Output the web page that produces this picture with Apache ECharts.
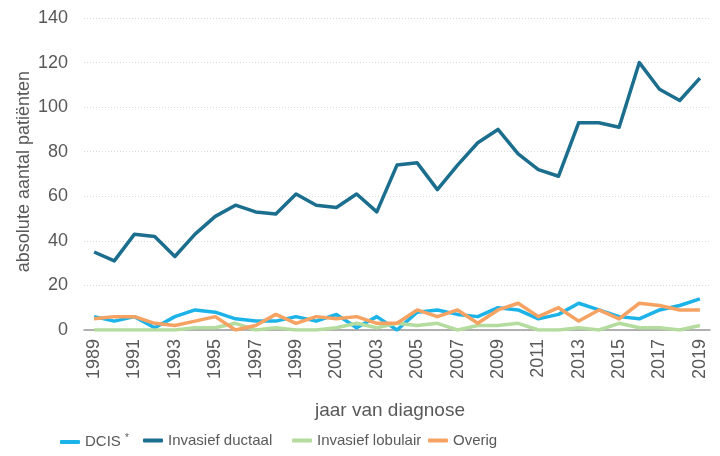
<!DOCTYPE html>
<html>
<head>
<meta charset="utf-8">
<script src="https://cdn.jsdelivr.net/npm/echarts@6/dist/echarts.min.js"></script>
<style>
  html, body { margin: 0; padding: 0; background: #fff; }
  #chart { width: 720px; height: 456px; }
</style>
</head>
<body>
<div id="chart"></div>
<script>
// jaren (categorieen)
const years = []
for (let y = 1989; y <= 2019; y++) years.push(String(y))

// series waarden
const dcis = [6, 4, 6, 1, 6, 9, 8, 5, 4, 4, 6, 4, 7, 1, 6, 0, 8, 9, 7, 6, 10, 9, 5, 7, 12, 9, 6, 5, 9, 11, 14]
const ductaal = [35, 31, 43, 42, 33, 43, 51, 56, 53, 52, 61, 56, 55, 61, 53, 74, 75, 63, 74, 84, 90, 79, 72, 69, 93, 93, 91, 120, 108, 103, 113]
const lobulair = [0, 0, 0, 0, 0, 1, 1, 3, 0, 1, 0, 0, 1, 3, 1, 3, 2, 3, 0, 2, 2, 3, 0, 0, 1, 0, 3, 1, 1, 0, 2]
const overig = [5, 6, 6, 3, 2, 4, 6, 0, 2, 7, 3, 6, 5, 6, 3, 3, 9, 6, 9, 3, 9, 12, 6, 10, 4, 9, 5, 12, 11, 9, 9]

const names = ['DCIS', 'Invasief ductaal', 'Invasief lobulair', 'Overig']
const colors = ['#1cb3e8', '#1b6e8d', '#b4dc9e', '#f5a263']
const values = [dcis, ductaal, lobulair, overig]
const legendLeft = [55, 138, 287, 423]

const font = "'Liberation Sans', Arial, sans-serif"
const textColor = '#595959'

const chart = echarts.init(document.getElementById('chart'))

const legends = names.map((n, i) => ({
  data: [n],
  left: legendLeft[i],
  top: 428,
  icon: 'roundRect',
  itemWidth: 20,
  itemHeight: 4,
  selectedMode: false,
  formatter: name => name === 'DCIS' ? 'DCIS {s|*}' : name,
  textStyle: {
    fontFamily: font,
    fontSize: 15,
    color: textColor,
    rich: {
      s: { fontFamily: font, fontSize: 10, color: textColor, padding: [0, 0, 8, 0] }
    }
  }
}))

const series = names.map((n, i) => ({
  name: n,
  type: 'line',
  data: values[i],
  symbol: 'none',
  z: i === 1 ? 3 : 2,
  lineStyle: { color: colors[i], width: 3.5, join: 'round' },
  itemStyle: { color: colors[i] }
}))

chart.setOption({
  animation: false,
  textStyle: { fontFamily: font },
  grid: { left: 84, right: 10, top: 18, bottom: 126 },
  legend: legends,
  xAxis: {
    type: 'category',
    data: years,
    boundaryGap: true,
    axisLine: { lineStyle: { color: '#999', width: 1.5 } },
    axisTick: { interval: 0, length: 5, lineStyle: { color: '#999' } },
    axisLabel: {
      interval: 1,
      rotate: 90,
      margin: 9,
      fontSize: 18,
      color: textColor,
      fontFamily: font
    }
  },
  yAxis: {
    type: 'value',
    min: 0,
    max: 140,
    interval: 20,
    axisLine: { show: false },
    axisTick: { show: false },
    axisLabel: { fontSize: 18, color: textColor, margin: 16, fontFamily: font },
    splitLine: { lineStyle: { color: '#d9d9d9', type: [1, 2], width: 1 } }
  },
  graphic: [
    {
      type: 'text',
      left: 15,
      top: 71,
      rotation: Math.PI / 2,
      style: {
        text: 'absolute aantal patiënten',
        fontSize: 18,
        fontFamily: font,
        fill: textColor
      }
    },
    {
      type: 'text',
      left: 315,
      top: 401,
      style: {
        text: 'jaar van diagnose',
        fontSize: 19,
        fontFamily: font,
        fill: textColor
      }
    }
  ],
  series: series
})
</script>
</body>
</html>
